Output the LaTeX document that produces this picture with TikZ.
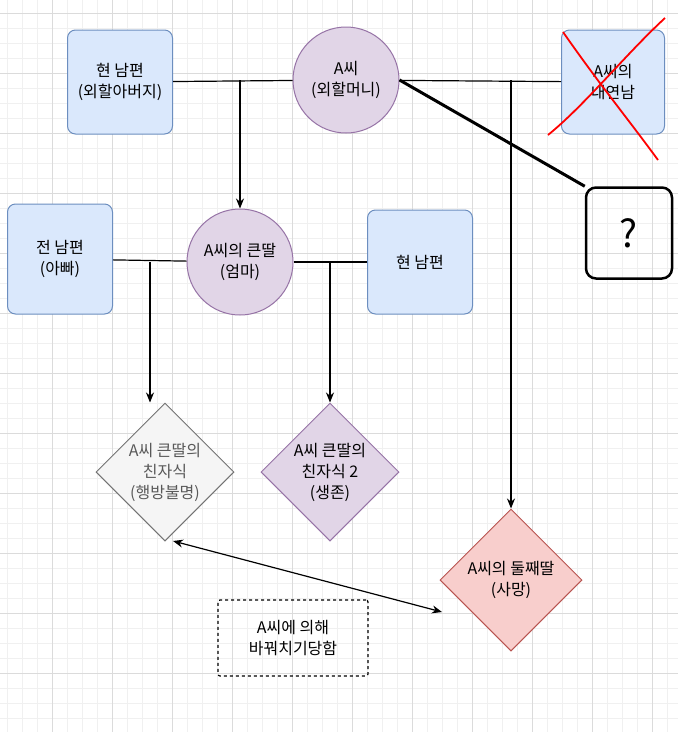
\documentclass[tikz,border=0pt]{standalone}
\usepackage{fontspec}
\setmainfont{Noto Sans CJK KR}
\usetikzlibrary{shapes.geometric,arrows.meta}
\definecolor{bluefill}{HTML}{DAE8FC}
\definecolor{blueline}{HTML}{6C8EBF}
\definecolor{purpfill}{HTML}{E1D5E7}
\definecolor{purpline}{HTML}{9673A6}
\definecolor{redfill}{HTML}{F8CECC}
\definecolor{redline}{HTML}{B85450}
\tikzset{
	person/.style={draw=blueline, fill=bluefill, rounded corners=8pt, minimum width=105pt, minimum height=104pt, align=center, font=\fontsize{16}{21}\selectfont, line width=1pt},
	lady/.style={circle, draw=purpline, fill=purpfill, minimum size=106pt, align=center, font=\fontsize{16}{21}\selectfont, line width=1pt},
	child/.style={diamond, aspect=1, minimum size=138pt, inner sep=0pt, align=center, font=\fontsize{16}{21}\selectfont, line width=1pt},
	link/.style={line width=1.2pt},
	arr/.style={line width=1.2pt, -{Stealth[length=10pt,width=8pt]}}
}
\begin{document}
\begin{tikzpicture}[x=1pt,y=-1pt]
	\useasboundingbox (0,0) rectangle (678,732);
	\fill[white] (0,0) rectangle (678,732);
	% grid
	\foreach \g in {7,22,...,678} \draw[black!6] (\g,0) -- (\g,732);
	\foreach \g in {13,28,...,732} \draw[black!6] (0,\g) -- (678,\g);
	\foreach \g in {52,112,...,678} \draw[black!14] (\g,0) -- (\g,732);
	\foreach \g in {13,73,...,732} \draw[black!14] (0,\g) -- (678,\g);

	\node[person] (gpa) at (120,82) {현 남편\\(외할아버지)};
	\node[lady] (gma) at (346,80) {A씨\\(외할머니)};
	\node[person, minimum width=103pt] (lover) at (613,82) {A씨의\\내연남};
	\node[draw, line width=2.5pt, rounded corners=10pt, minimum width=86pt, minimum height=91pt, font=\fontsize{38}{44}\selectfont] (who) at (629,233) {?};
	\node[person, minimum height=110pt] (dad) at (60,259) {전 남편\\(아빠)};
	\node[lady] (mom) at (240,262) {A씨의 큰딸\\(엄마)};
	\node[person] (step) at (420,262) {현 남편};
	\node[child, draw=black!55, fill=black!4, text=black!65] (lost) at (165,472) {A씨 큰딸의\\친자식\\(행방불명)};
	\node[child, draw=purpline, fill=purpfill] (kid) at (330,472) {A씨 큰딸의\\친자식 2\\(생존)};
	\node[child, draw=redline, fill=redfill, minimum size=142pt] (second) at (511,580) {A씨의 둘째딸\\(사망)};
	\node[draw, dashed, line width=1.2pt, rounded corners=2pt, minimum width=150pt, minimum height=76pt, align=center, font=\fontsize{16}{21}\selectfont] (swap) at (293,638) {A씨에 의해\\바꿔치기당함};

	% crossed out
	\draw[red, line width=1.8pt] (563,32) .. controls (600,85) and (625,115) .. (658,160);
	\draw[red, line width=1.8pt] (665,18) .. controls (625,55) and (585,105) .. (548,135);

	\coordinate (m1) at (240,80);
	\coordinate (m2) at (511,80);
	\coordinate (m3) at (150,262);
	\coordinate (m4) at (330,262);
	\draw[link] (gpa) -- (gma);
	\draw[link] (gma) -- (lover);
	\draw[line width=3pt] (gma.east) -- (who.north west);
	\draw[arr] (m1) -- (mom);
	\draw[arr] (m2) -- (second.north);
	\draw[link] (dad) -- (mom);
	\draw[link] (mom) -- (step);
	\draw[arr] (m3) -- (m3 |- lost.north);
	\draw[arr] (m4) -- (kid.north);
	\draw[line width=1.2pt, {Stealth[length=10pt,width=8pt]}-{Stealth[length=10pt,width=8pt]}] (173,541) -- (442,612);
\end{tikzpicture}
\end{document}
